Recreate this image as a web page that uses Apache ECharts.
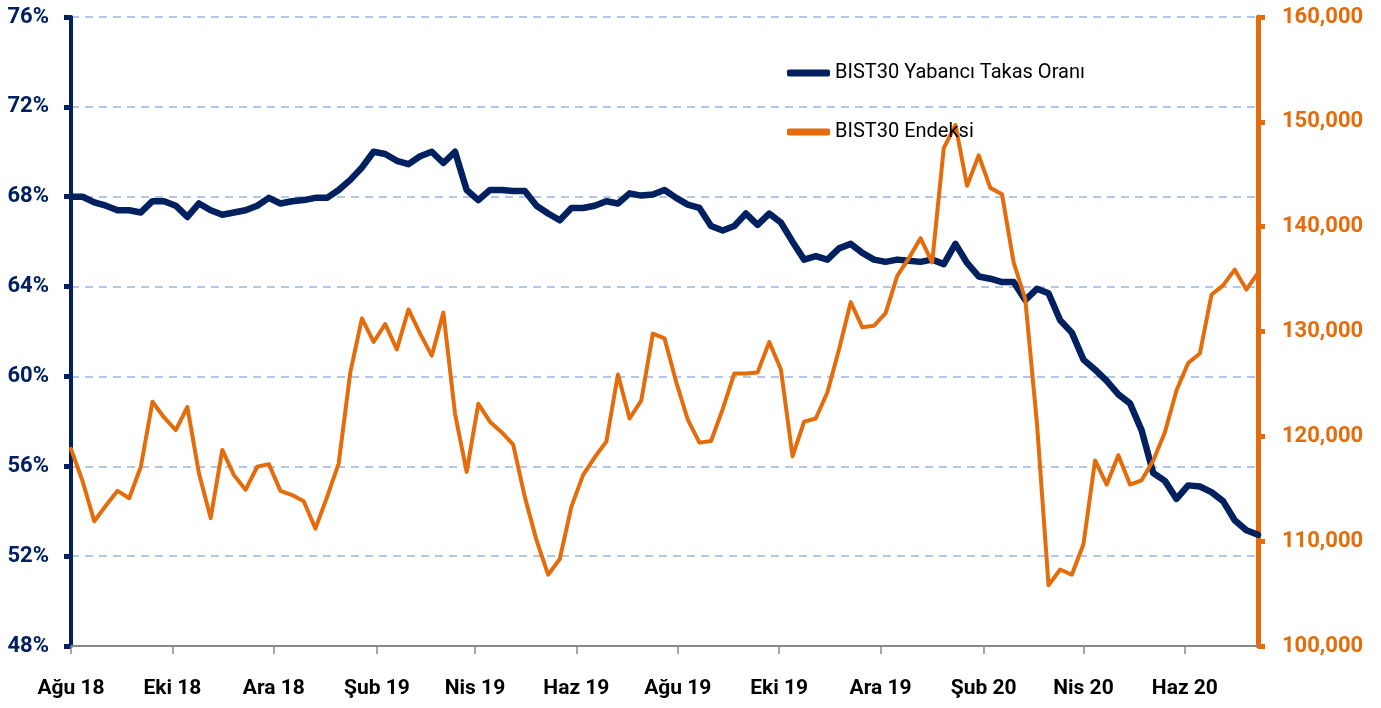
<!DOCTYPE html>
<html>
<head>
<meta charset="utf-8">
<script src="https://cdn.jsdelivr.net/npm/echarts@6/dist/echarts.min.js"></script>
<style>
	html, body { margin: 0; padding: 0; background: #fff; }
	#chart { width: 1381px; height: 708px; }
</style>
</head>
<body>
<div id="chart"></div>
<script>
// weekly observations, first one on 3 Aug 2018
const firstWeek = "2018-08-03";

// BIST30 Yabancı Takas Oranı (%)
const takasOrani = [
	68.0, 68.0, 67.75, 67.6, 67.4, 67.4, 67.3, 67.8, 67.8, 67.6,
	67.1, 67.7, 67.4, 67.2, 67.3, 67.4, 67.6, 67.95, 67.7, 67.8,
	67.85, 67.95, 67.95, 68.3, 68.75, 69.3, 70.0, 69.9, 69.6, 69.45,
	69.8, 70.0, 69.5, 70.0, 68.3, 67.85, 68.3, 68.3, 68.25, 68.25,
	67.6, 67.25, 66.95, 67.5, 67.5, 67.6, 67.8, 67.7, 68.15, 68.05,
	68.1, 68.3, 67.95, 67.65, 67.5, 66.7, 66.5, 66.7, 67.25, 66.75,
	67.25, 66.85, 66.0, 65.2, 65.35, 65.2, 65.7, 65.9, 65.5, 65.2,
	65.1, 65.2, 65.15, 65.1, 65.2, 65.0, 65.9, 65.05, 64.45, 64.35,
	64.2, 64.2, 63.4, 63.9, 63.7, 62.5, 61.95, 60.75, 60.3, 59.8,
	59.2, 58.8, 57.6, 55.7, 55.35, 54.55, 55.15, 55.1, 54.85, 54.45,
	53.6, 53.15, 52.95,
];

// BIST30 Endeksi
const bist30 = [
	118800, 115700, 111900, 113400, 114800, 114100, 117100, 123300, 121800, 120600,
	122800, 116450, 112200, 118700, 116300, 114900, 117100, 117350, 114800, 114400,
	113800, 111200, 114200, 117400, 126100, 131250, 129000, 130700, 128300, 132100,
	129800, 127700, 131800, 122150, 116600, 123100, 121400, 120400, 119200, 114200,
	110100, 106800, 108300, 113300, 116300, 118000, 119500, 125900, 121700, 123400,
	129800, 129350, 125200, 121600, 119400, 119550, 122600, 126000, 126000, 126100,
	129000, 126400, 118100, 121400, 121700, 124200, 128300, 132800, 130400, 130550,
	131750, 135300, 137000, 138900, 136600, 147500, 149700, 143900, 146800, 143700,
	143100, 136600, 133100, 121300, 105800, 107300, 106800, 109700, 117700, 115400,
	118200, 115400, 115800, 117700, 120400, 124400, 127000, 127900, 133500, 134400,
	135900, 134000, 135600,
];

const tickDates = [
	"2018-08-03", "2018-10-03", "2018-12-03", "2019-02-03", "2019-04-03", "2019-06-03",
	"2019-08-03", "2019-10-03", "2019-12-03", "2020-02-03", "2020-04-03", "2020-06-03",
];
const tickLabels = [
	"Ağu 18", "Eki 18", "Ara 18", "Şub 19", "Nis 19", "Haz 19",
	"Ağu 19", "Eki 19", "Ara 19", "Şub 20", "Nis 20", "Haz 20",
];

const seriesNames = ["BIST30 Yabancı Takas Oranı", "BIST30 Endeksi"];

const FONT = "Roboto, 'Open Sans', sans-serif";
const NAVY = "#002060";
const ORANGE = "#E46C0A";

// x is counted in days from the first week
function dayOf(s) {
	return Math.round((Date.parse(s + "T00:00:00Z") - Date.parse(firstWeek + "T00:00:00Z")) / 86400000);
}

const weekDays = takasOrani.map((v, i) => 7 * i);
const tickDays = tickDates.map(dayOf);

function tickLabel(v) {
	const i = tickDays.indexOf(Math.round(v));
	return i < 0 ? "" : tickLabels[i];
}

const chart = echarts.init(document.getElementById("chart"));

const option = {
	animation: false,
	textStyle: { fontFamily: FONT },
	grid: {
		left: 71,
		right: 123,
		top: 17,
		bottom: 62,
		outerBoundsMode: "none",
	},
	legend: {
		orient: "vertical",
		left: 787,
		top: 63,
		padding: 0,
		itemWidth: 43,
		itemHeight: 7,
		itemGap: 39,
		icon: "roundRect",
		textStyle: { fontSize: 20, color: "#000", fontFamily: FONT },
		data: seriesNames,
	},
	xAxis: {
		type: "value",
		min: 0,
		max: weekDays[weekDays.length - 1],
		axisLine: { show: true, onZero: false, lineStyle: { color: "#898989", width: 2 } },
		axisTick: {
			show: true,
			customValues: tickDays,
			length: 8,
			lineStyle: { color: "#898989", width: 1.5 },
		},
		axisLabel: {
			customValues: tickDays,
			formatter: tickLabel,
			margin: 32,
			fontSize: 21,
			fontWeight: "bold",
			color: "#000",
			fontFamily: FONT,
		},
		splitLine: { show: false },
	},
	yAxis: [
		{
			type: "value",
			position: "left",
			min: 48,
			max: 76,
			interval: 4,
			axisLine: { show: true, lineStyle: { color: NAVY, width: 4 } },
			axisTick: { show: true, length: 7, lineStyle: { color: NAVY, width: 5 } },
			axisLabel: {
				formatter: "{value}%",
				color: NAVY,
				fontSize: 22,
				fontWeight: "bold",
				fontFamily: FONT,
				margin: 22,
			},
			splitLine: {
				show: true,
				lineStyle: { color: "#B4C7E7", width: 2, type: [8, 6] },
			},
		},
		{
			type: "value",
			position: "right",
			min: 100000,
			max: 160000,
			interval: 10000,
			axisLine: { show: true, lineStyle: { color: ORANGE, width: 5 } },
			axisTick: { show: true, length: 7, lineStyle: { color: ORANGE, width: 5 } },
			axisLabel: {
				formatter: (v) => v.toLocaleString("en-US"),
				color: ORANGE,
				fontSize: 22,
				fontWeight: "bold",
				fontFamily: FONT,
				margin: 24,
			},
			splitLine: { show: false },
		},
	],
	series: [
		{
			name: seriesNames[0],
			type: "line",
			yAxisIndex: 0,
			symbol: "none",
			color: NAVY,
			lineStyle: { width: 6.5, join: "round", cap: "round" },
			data: takasOrani.map((v, i) => [weekDays[i], v]),
			z: 2,
		},
		{
			name: seriesNames[1],
			type: "line",
			yAxisIndex: 1,
			symbol: "none",
			color: ORANGE,
			lineStyle: { width: 4, join: "round", cap: "round" },
			data: bist30.map((v, i) => [weekDays[i], v]),
			z: 3,
		},
	],
};

chart.setOption(option);
</script>
</body>
</html>
